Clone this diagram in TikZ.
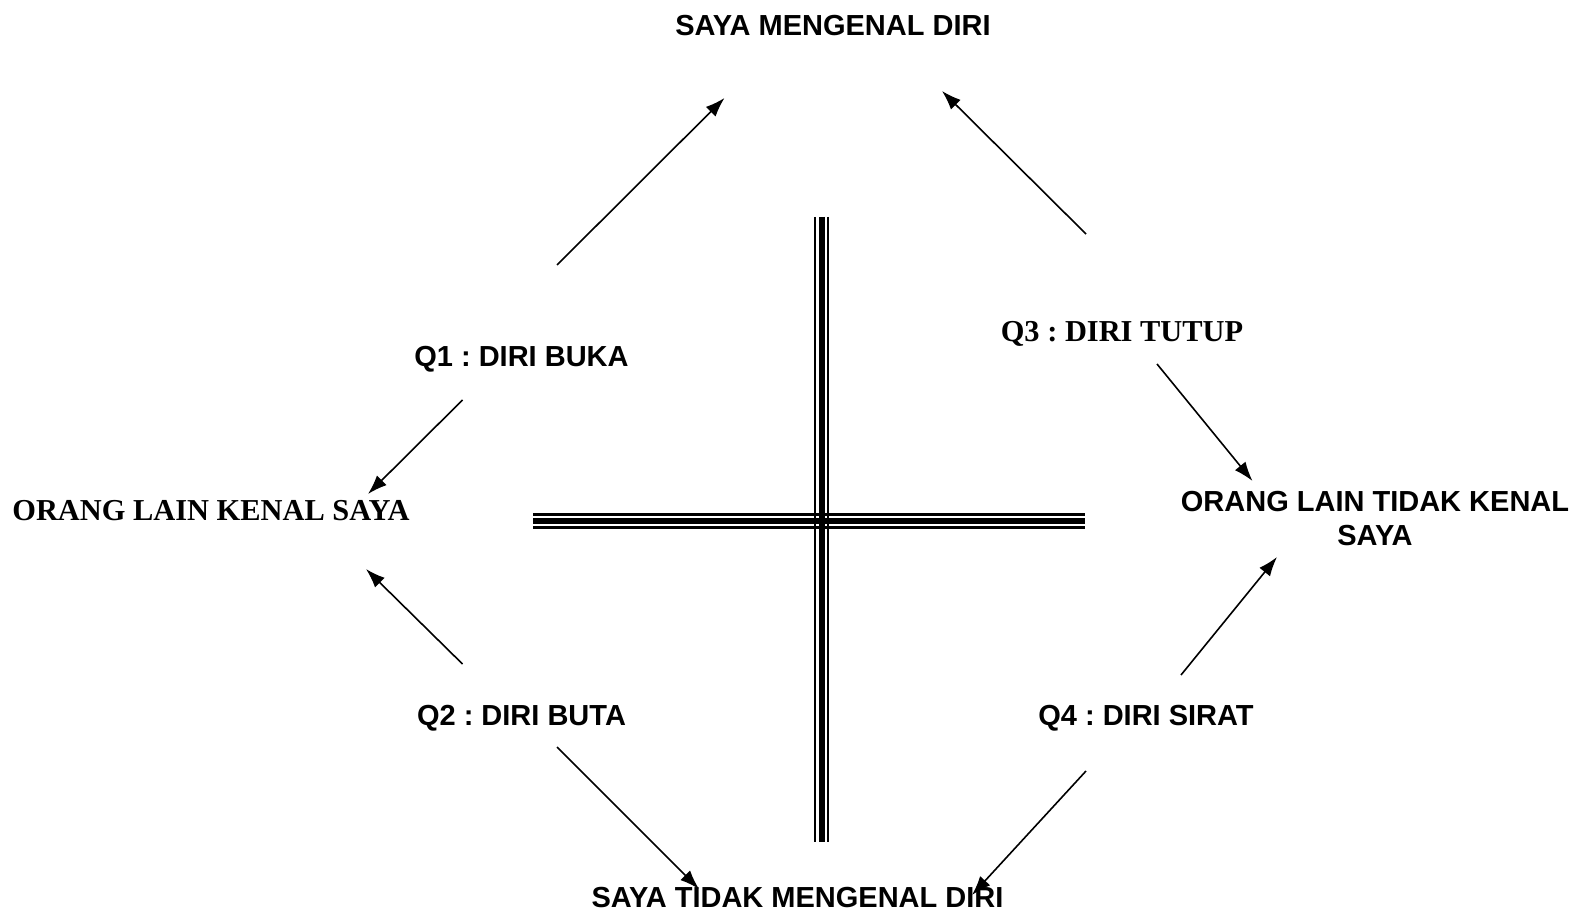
\documentclass[tikz,border=0pt]{standalone}
\usepackage{fontspec}
\setmainfont{Liberation Serif}
\newfontfamily\arialfont{Liberation Sans}
\usetikzlibrary{arrows.meta}
\frenchspacing
\tikzset{
  sanslabel/.style={inner sep=0pt, align=center, font=\arialfont\bfseries\fontsize{14.5}{16.6}\selectfont},
  seriflabel/.style={inner sep=0pt, align=center, font=\bfseries\fontsize{15.2}{18}\selectfont},
  arrow/.style={-{Latex[length=3.4mm,width=2.4mm]}, line width=0.8pt},
  thinbar/.style={line width=1.4pt},
  thickbar/.style={line width=3pt}
}

\begin{document}
\begin{tikzpicture}[x=0.5pt,y=-0.5pt]
  \useasboundingbox (0,0) rectangle (1580,914);
  % labels
  \node[sanslabel] (kenaldiri) at (833,26) {SAYA MENGENAL DIRI};
  \node[sanslabel] (buka) at (521.5,359) {Q1 : DIRI BUKA};
  \node[seriflabel] (tutup) at (1122,334) {Q3 : DIRI TUTUP};
  \node[seriflabel] (kenalsaya) at (211,510.5) {ORANG LAIN KENAL SAYA};
  \node[sanslabel] (tidakkenal) at (1375,518.5) {ORANG LAIN TIDAK KENAL\\SAYA};
  \node[sanslabel] (buta) at (521.5,718.5) {Q2 : DIRI BUTA};
  \node[sanslabel] (sirat) at (1146,718.5) {Q4 : DIRI SIRAT};
  \node[sanslabel] (tidakdiri) at (797.5,898) {SAYA TIDAK MENGENAL DIRI};

  % cross
  \foreach \d/\w in {-6.5/thinbar,0/thickbar,6.5/thinbar}{
    \draw[\w] (821.5+\d,217) -- (821.5+\d,842);
    \draw[\w] (533,521+\d) -- (1085,521+\d);
  }

  % arrow ends
  \coordinate (bukaA) at (557,265);    \coordinate (bukaB) at (724.5,98);
  \coordinate (tutupA) at (1086,234);  \coordinate (tutupB) at (942,91);
  \coordinate (bukaC) at (462.5,400);  \coordinate (bukaD) at (368,494);
  \coordinate (tutupC) at (1157,364);  \coordinate (tutupD) at (1252.5,481);
  \coordinate (butaA) at (462.5,664);  \coordinate (butaB) at (366,569);
  \coordinate (siratA) at (1181,675);  \coordinate (siratB) at (1277,557);
  \coordinate (butaC) at (557,747);    \coordinate (butaD) at (699,889);
  \coordinate (siratC) at (1086,771);  \coordinate (siratD) at (972,895);

  \draw[arrow] (bukaA) -- (bukaB);
  \draw[arrow] (tutupA) -- (tutupB);
  \draw[arrow] (bukaC) -- (bukaD);
  \draw[arrow] (tutupC) -- (tutupD);
  \draw[arrow] (butaA) -- (butaB);
  \draw[arrow] (siratA) -- (siratB);
  \draw[arrow] (butaC) -- (butaD);
  \draw[arrow] (siratC) -- (siratD);
\end{tikzpicture}
\end{document}
